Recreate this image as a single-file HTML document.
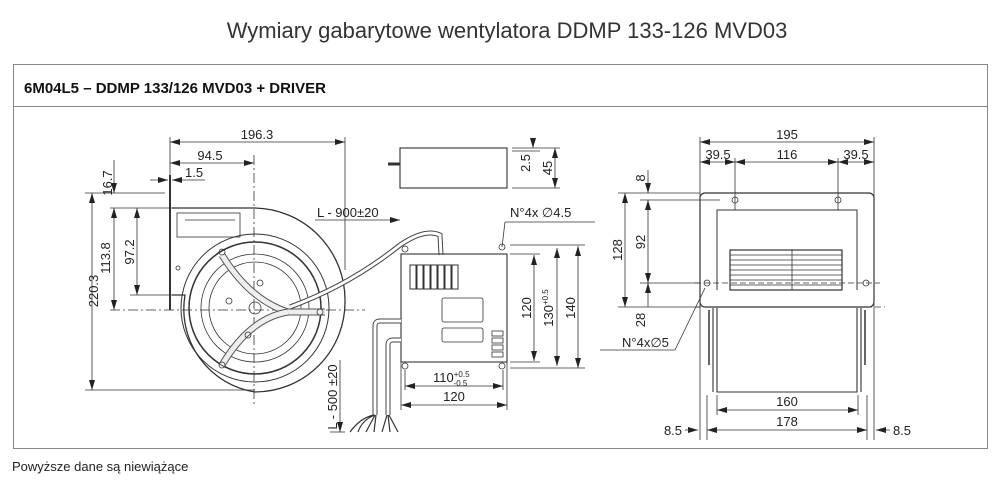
<!DOCTYPE html>
<html><head><meta charset="utf-8"><style>
html,body{margin:0;padding:0;background:#fff;width:1000px;height:488px;overflow:hidden;font-family:"Liberation Sans",sans-serif}
</style></head><body>
<svg width="1000" height="488" viewBox="0 0 1000 488" xmlns="http://www.w3.org/2000/svg" font-family="Liberation Sans, sans-serif">
<defs>
<marker id="a" viewBox="0 0 10 6" refX="10" refY="3" markerWidth="10" markerHeight="6" orient="auto-start-reverse" markerUnits="userSpaceOnUse"><path d="M0,0 L10,3 L0,6z" fill="#222"/></marker>
</defs>
<text x="507" y="38" text-anchor="middle" font-size="22" fill="#333">Wymiary gabarytowe wentylatora DDMP 133-126 MVD03</text>
<rect x="13.5" y="64.5" width="974" height="384" fill="none" stroke="#888" stroke-width="1"/>
<line x1="13" y1="106.5" x2="987" y2="106.5" stroke="#888"/>
<text x="24" y="93" font-size="15" font-weight="bold" fill="#111">6M04L5 – DDMP 133/126 MVD03 + DRIVER</text>
<text x="12" y="471" font-size="13" fill="#222">Powyższe dane są niewiążące</text>

<g stroke="#333" stroke-width="0.8" fill="none">
<!-- LEFT FAN dims -->
<line x1="170" y1="137" x2="170" y2="175"/><line x1="345" y1="137" x2="345" y2="270"/>
<line x1="170" y1="142" x2="345" y2="142" marker-start="url(#a)" marker-end="url(#a)"/>
<line x1="170" y1="163" x2="254" y2="163" marker-start="url(#a)" marker-end="url(#a)"/>
<line x1="254" y1="155" x2="254" y2="405" stroke-dasharray="10,3,2,3"/>
<line x1="150" y1="180" x2="168" y2="180" marker-end="url(#a)"/><line x1="205" y1="180" x2="172" y2="180" marker-end="url(#a)"/>
<line x1="85" y1="193" x2="165" y2="193"/><line x1="110" y1="208" x2="172" y2="208"/>
<line x1="85" y1="390" x2="255" y2="390"/><line x1="130" y1="295" x2="172" y2="295"/>
<line x1="110" y1="310" x2="365" y2="310" stroke-dasharray="10,3,2,3"/>
<line x1="92" y1="193" x2="92" y2="390" marker-start="url(#a)" marker-end="url(#a)"/>
<line x1="114" y1="160" x2="114" y2="193" marker-end="url(#a)"/>
<line x1="114" y1="208" x2="114" y2="310" marker-start="url(#a)" marker-end="url(#a)"/>
<line x1="137" y1="208" x2="137" y2="295" marker-start="url(#a)" marker-end="url(#a)"/>
<line x1="315" y1="220" x2="400" y2="220" marker-end="url(#a)"/>
<!-- fan body -->
<line x1="170" y1="175" x2="170" y2="310" stroke-width="2"/>
<path d="M172,208 L255,208 A92,92 0 0 1 345,300 A90,90 0 0 1 255,392 A84,84 0 0 1 185,295 L172,295" stroke-width="1.3"/>
<rect x="177" y="213" width="63" height="24"/>
<line x1="185" y1="220" x2="235" y2="220"/>
<circle cx="255" cy="308" r="74" stroke-width="1"/>
<circle cx="255" cy="308" r="66" stroke-width="1.5"/>
<circle cx="255" cy="308" r="54"/>
<circle cx="255" cy="308" r="46"/>
<circle cx="255" cy="308" r="6"/>
<path d="M222,255 Q250,300 288,312 L325,312" stroke-width="7" stroke="#555"/>
<path d="M222,255 Q250,300 288,312 L325,312" stroke-width="5" stroke="#eee"/>
<path d="M222,365 Q250,318 288,312" stroke-width="7" stroke="#555"/>
<path d="M222,365 Q250,318 288,312" stroke-width="5" stroke="#eee"/>
<circle cx="222" cy="252" r="3"/><circle cx="222" cy="365" r="3"/><circle cx="320" cy="312" r="3"/>
<circle cx="260" cy="283" r="3"/><circle cx="229" cy="301" r="3"/><circle cx="248" cy="335" r="3"/>
<circle cx="178" cy="268" r="2"/>
<!-- cable to driver -->
<path d="M290,307 Q350,285 400,245 Q425,228 440,235 L441,255" stroke-width="5" stroke="#444"/>
<path d="M290,307 Q350,285 400,245 Q425,228 440,235 L441,255" stroke-width="3" stroke="#fff"/>
<!-- top small box -->
<rect x="400" y="148" width="107" height="40" stroke-width="1.1"/>
<line x1="388" y1="164" x2="400" y2="164" stroke-width="3"/>
<line x1="512" y1="148" x2="560" y2="148"/><line x1="512" y1="188" x2="560" y2="188"/><line x1="512" y1="151" x2="540" y2="151"/>
<line x1="533" y1="138" x2="533" y2="148" marker-end="url(#a)"/>
<line x1="555" y1="148" x2="555" y2="188" marker-start="url(#a)" marker-end="url(#a)"/>
<!-- driver -->
<rect x="401" y="254" width="106" height="108" stroke-width="1.1"/>
<g stroke-width="1"><rect x="410" y="265" width="6" height="24"/><rect x="417" y="265" width="6" height="24"/><rect x="424" y="265" width="6" height="24"/><rect x="431" y="265" width="6" height="24"/><rect x="438" y="265" width="6" height="24"/><rect x="445" y="265" width="6" height="24"/><rect x="452" y="265" width="6" height="24"/></g>
<rect x="442" y="298" width="41" height="24" rx="2"/><rect x="442" y="328" width="41" height="14" rx="2"/>
<rect x="492" y="331" width="11" height="5"/><rect x="492" y="338" width="11" height="5"/><rect x="492" y="345" width="11" height="5"/><rect x="492" y="352" width="11" height="5"/>
<circle cx="405" cy="249" r="3"/><circle cx="502" cy="247" r="3"/><circle cx="405" cy="366" r="3"/><circle cx="502" cy="366" r="3"/>
<line x1="505" y1="222" x2="595" y2="222"/><line x1="505" y1="222" x2="502" y2="247"/>
<line x1="510" y1="245" x2="585" y2="245"/><line x1="510" y1="254" x2="540" y2="254"/><line x1="510" y1="362" x2="540" y2="362"/><line x1="510" y1="368" x2="585" y2="368"/>
<line x1="534" y1="255" x2="534" y2="361" marker-start="url(#a)" marker-end="url(#a)"/>
<line x1="557" y1="248" x2="557" y2="366" marker-start="url(#a)" marker-end="url(#a)"/>
<line x1="578" y1="246" x2="578" y2="368" marker-start="url(#a)" marker-end="url(#a)"/>
<line x1="401" y1="362" x2="401" y2="410"/><line x1="507" y1="362" x2="507" y2="410"/><line x1="405" y1="370" x2="405" y2="390"/><line x1="503" y1="370" x2="503" y2="390"/>
<line x1="405" y1="386" x2="503" y2="386" marker-start="url(#a)" marker-end="url(#a)"/>
<line x1="401" y1="405" x2="507" y2="405" marker-start="url(#a)" marker-end="url(#a)"/>
<!-- wires -->
<path d="M401,321 L380,321 Q375,321 375,326 L375,415" stroke-width="5" stroke="#444"/>
<path d="M401,321 L380,321 Q375,321 375,326 L375,415" stroke-width="3" stroke="#fff"/>
<path d="M401,340 L393,340 Q388,340 388,345 L388,415" stroke-width="5" stroke="#444"/>
<path d="M401,340 L393,340 Q388,340 388,345 L388,415" stroke-width="3" stroke="#fff"/>
<path d="M374,415 Q360,418 350,432 M375,415 Q362,420 358,432 M375,415 L366,432 M376,415 L374,432 M387,415 L382,432 M388,415 L390,432 M389,415 L398,432" stroke-width="1.2"/>
<line x1="330" y1="432" x2="345" y2="432"/>
<line x1="340" y1="360" x2="340" y2="432" marker-end="url(#a)"/>
<!-- RIGHT VIEW -->
<line x1="700" y1="137" x2="700" y2="440"/><line x1="874" y1="137" x2="874" y2="440"/>
<line x1="735" y1="158" x2="735" y2="210"/><line x1="838" y1="158" x2="838" y2="210"/>
<line x1="700" y1="142" x2="874" y2="142" marker-start="url(#a)" marker-end="url(#a)"/>
<line x1="700" y1="162" x2="735" y2="162" marker-start="url(#a)" marker-end="url(#a)"/>
<line x1="735" y1="162" x2="838" y2="162" marker-start="url(#a)" marker-end="url(#a)"/>
<line x1="838" y1="162" x2="874" y2="162" marker-start="url(#a)" marker-end="url(#a)"/>
<rect x="700" y="193" width="174" height="114" rx="5" stroke-width="1.2"/>
<path d="M717,290 L717,210 L857,210 L857,290" stroke-width="1"/>
<line x1="722" y1="210" x2="852" y2="210"/>
<rect x="730" y="250" width="112" height="40" stroke-width="1.2"/>
<g stroke-width="0.8"><line x1="730" y1="255" x2="842" y2="255"/><line x1="730" y1="260" x2="842" y2="260"/><line x1="730" y1="265" x2="842" y2="265"/><line x1="730" y1="270" x2="842" y2="270"/><line x1="730" y1="275" x2="842" y2="275"/><line x1="730" y1="280" x2="842" y2="280"/><line x1="730" y1="285" x2="842" y2="285"/><line x1="792" y1="250" x2="792" y2="290"/></g>
<circle cx="735" cy="200" r="3"/><circle cx="838" cy="200" r="3"/><circle cx="707" cy="283" r="3"/><circle cx="866" cy="283" r="3"/>
<line x1="695" y1="283" x2="880" y2="283" stroke-dasharray="6,3"/>
<line x1="695" y1="307" x2="885" y2="307" stroke-dasharray="6,3"/>
<path d="M713,308 L713,392 M861,308 L861,392 M717,308 L717,392 L857,392 L857,308" stroke-width="1.1"/>
<path d="M709,310 L709,365 M865,310 L865,365" stroke-width="1.5"/>
<line x1="717" y1="395" x2="717" y2="415"/><line x1="858" y1="395" x2="858" y2="415"/>
<line x1="707" y1="395" x2="707" y2="440"/><line x1="867" y1="395" x2="867" y2="440"/>
<line x1="717" y1="410" x2="858" y2="410" marker-start="url(#a)" marker-end="url(#a)"/>
<line x1="707" y1="430" x2="867" y2="430" marker-start="url(#a)" marker-end="url(#a)"/>
<line x1="685" y1="430" x2="698" y2="430" marker-end="url(#a)"/>
<line x1="890" y1="430" x2="876" y2="430" marker-end="url(#a)"/>
<line x1="618" y1="193" x2="700" y2="193"/><line x1="640" y1="200" x2="720" y2="200"/><line x1="640" y1="283" x2="700" y2="283"/><line x1="618" y1="307" x2="700" y2="307"/>
<line x1="625" y1="193" x2="625" y2="307" marker-start="url(#a)" marker-end="url(#a)"/>
<line x1="648" y1="170" x2="648" y2="193" marker-end="url(#a)"/>
<line x1="648" y1="200" x2="648" y2="283" marker-start="url(#a)" marker-end="url(#a)"/>
<line x1="648" y1="283" x2="648" y2="307" marker-start="url(#a)"/>
<line x1="600" y1="350" x2="675" y2="350"/><line x1="675" y1="350" x2="705" y2="288"/>
</g>

<g font-size="13" fill="#222">
<text x="257" y="139" text-anchor="middle">196.3</text>
<text x="210" y="160" text-anchor="middle">94.5</text>
<text x="185" y="177">1.5</text>
<text x="317" y="217">L - 900±20</text>
<text transform="translate(98,291) rotate(-90)" text-anchor="middle">220.3</text>
<text transform="translate(112,183) rotate(-90)" text-anchor="middle">16.7</text>
<text transform="translate(110,258) rotate(-90)" text-anchor="middle">113.8</text>
<text transform="translate(134,252) rotate(-90)" text-anchor="middle">97.2</text>
<text transform="translate(530,163) rotate(-90)" text-anchor="middle">2.5</text>
<text transform="translate(552,168) rotate(-90)" text-anchor="middle">45</text>
<text x="510" y="217">N°4x ∅4.5</text>
<text transform="translate(531,308) rotate(-90)" text-anchor="middle">120</text>
<text transform="translate(553,308) rotate(-90)" text-anchor="middle">130<tspan font-size="8" dy="-5">+0.5</tspan></text>
<text transform="translate(575,308) rotate(-90)" text-anchor="middle">140</text>
<text x="433" y="382">110<tspan font-size="8" dy="-5">+0.5</tspan><tspan font-size="8" dx="-16" dy="9">-0.5</tspan></text>
<text x="454" y="401" text-anchor="middle">120</text>
<text transform="translate(337,397) rotate(-90)" text-anchor="middle">L - 500 ±20</text>
<text x="787" y="139" text-anchor="middle">195</text>
<text x="718" y="159" text-anchor="middle">39.5</text>
<text x="787" y="159" text-anchor="middle">116</text>
<text x="856" y="159" text-anchor="middle">39.5</text>
<text transform="translate(622,250) rotate(-90)" text-anchor="middle">128</text>
<text transform="translate(645,178) rotate(-90)" text-anchor="middle">8</text>
<text transform="translate(645,242) rotate(-90)" text-anchor="middle">92</text>
<text transform="translate(645,320) rotate(-90)" text-anchor="middle">28</text>
<text x="622" y="347">N°4x∅5</text>
<text x="787" y="406" text-anchor="middle">160</text>
<text x="787" y="426" text-anchor="middle">178</text>
<text x="673" y="435" text-anchor="middle">8.5</text>
<text x="902" y="435" text-anchor="middle">8.5</text>
</g>
</svg>
</body></html>
